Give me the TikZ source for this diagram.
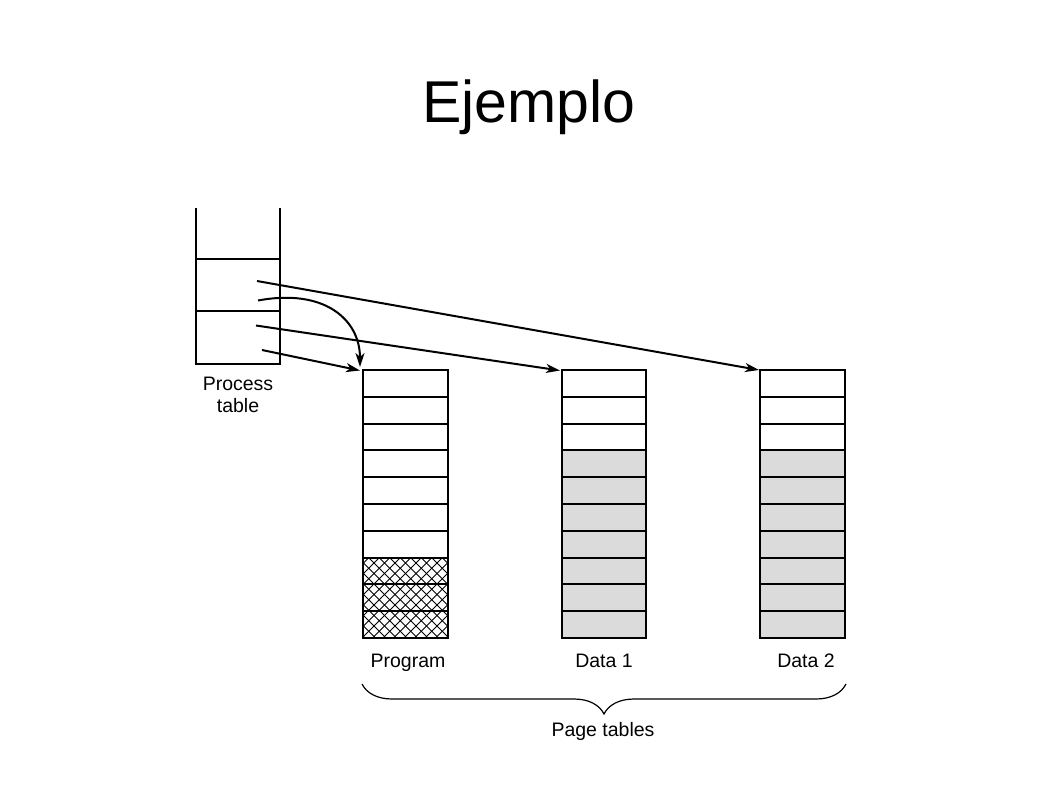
\documentclass[tikz,border=0pt]{standalone}
\usepackage{fontspec}
\setmainfont{Liberation Sans}
\usetikzlibrary{arrows.meta,decorations.pathreplacing}
\begin{document}
\begin{tikzpicture}[x=1pt,y=-1pt,
  tbl/.style={line width=2pt},
  arr/.style={line width=2pt,-{Stealth[length=14pt,width=9pt,inset=4pt]}},
  lbl/.style={font=\fontsize{19.5}{22}\selectfont,inner sep=0pt,anchor=base},
  grayfill/.style={fill=gray!28}]
\useasboundingbox (0,0) rectangle (1058,793);
% title
\node[font=\fontsize{59}{64}\selectfont,inner sep=0pt,anchor=base] (title) at (529,122) {Ejemplo};
% process table
\draw[tbl] (196,208) -- (196,363.5) -- (280,363.5) -- (280,208);
\draw[tbl] (196,259) -- (280,259);
\draw[tbl] (196,311) -- (280,311);
\node[lbl] (ptlabel1) at (238,390) {Process};
\node[lbl] (ptlabel2) at (238,412) {table};
% page tables
\def\rowh{26.8}
% Data fills
\fill[grayfill] (562,451) rectangle (646,638);
\fill[grayfill] (760,451) rectangle (845,638);
% crosshatch
\begin{scope}
\clip (363,558) rectangle (448,638);
\foreach \c in {-120,-109.5,...,120}{
  \draw[line width=0.8pt] (363+\c,558) -- (363+\c+80,638);
  \draw[line width=0.8pt] (448-\c,558) -- (448-\c-80,638);
}
\end{scope}
\foreach \xa/\xb in {363/448,562/646,760/845}{
  \draw[tbl] (\xa,370) rectangle (\xb,638);
  \foreach \i in {1,...,9}{
    \draw[tbl] (\xa,370+\i*\rowh) -- (\xb,370+\i*\rowh);
  }
}
\node[lbl] (prog) at (408,667) {Program};
\node[lbl] (d1) at (604,667) {Data 1};
\node[lbl] (d2) at (806,667) {Data 2};
% arrow endpoints
\coordinate (s1) at (257,281);
\coordinate (s2) at (258,300.5);
\coordinate (s3) at (256,325.5);
\coordinate (s4) at (262,350);
\coordinate (e1) at (759,370);
\coordinate (e2) at (360,367);
\coordinate (e3) at (560,370.5);
\coordinate (e4) at (360,370.5);
\draw[arr] (s1) -- (e1);
\draw[arr] (s2) .. controls (325,288) and (360,320) .. (e2);
\draw[arr] (s3) -- (e3);
\draw[arr] (s4) -- (e4);
% brace
\coordinate (bl) at (362,684);
\coordinate (br) at (846,684);
\draw[line width=1.2pt,decorate,decoration={brace,mirror,amplitude=30pt,raise=0pt}] (bl) -- (br);
\node[lbl] (pt) at (603,736) {Page tables};
\end{tikzpicture}
\end{document}
